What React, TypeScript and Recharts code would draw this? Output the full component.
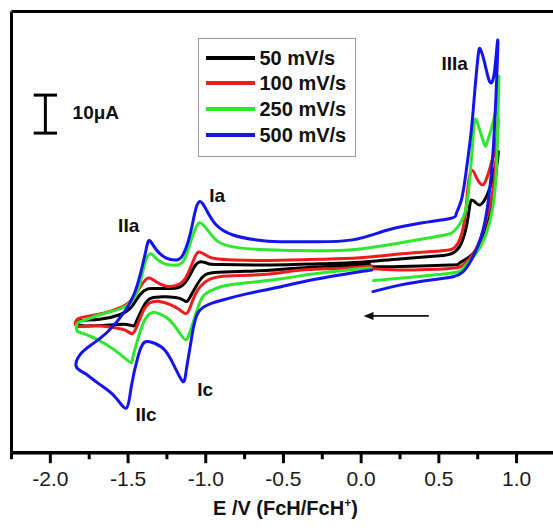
import React from 'react';
import { LineChart, Line, XAxis, YAxis, ReferenceLine, ReferenceDot } from 'recharts';

const FONT = '"Liberation Sans", Arial, Helvetica, sans-serif';

// scan rates, legend order
const rates = ['50 mV/s', '100 mV/s', '250 mV/s', '500 mV/s'];
const colors = ['#000000', '#ee1c1c', '#2ee82e', '#1414ee'];

// [E (V vs FcH/FcH+), I (µA)] read along each loop, starting at the rest potential
const scan50: [number, number][] = [
  [0.055, 9.3], [-0.138, 8.9], [-0.396, 8.4], [-0.589, 7.8], [-0.782, 7.5], [-0.943, 7.2],
  [-1.014, 6.3], [-1.065, 3.4], [-1.104, 0.5], [-1.126, -0.4], [-1.168, 0.4], [-1.232, 0.8],
  [-1.297, 0.8], [-1.361, 0.3], [-1.412, -2.6], [-1.451, -6.1], [-1.47, -6.8], [-1.522, -6.4],
  [-1.618, -6.6], [-1.715, -6.8], [-1.799, -6.8], [-1.824, -6.3], [-1.811, -5.5], [-1.683, -5.1],
  [-1.554, -3.9], [-1.477, -1.8], [-1.425, 1.3], [-1.374, 2.9], [-1.329, 3.0], [-1.254, 3.0],
  [-1.168, 3.4], [-1.116, 5.5], [-1.078, 8.4], [-1.039, 10.0], [-0.988, 9.6], [-0.911, 9.3],
  [-0.589, 9.2], [-0.267, 9.5], [-0.01, 9.9], [0.248, 10.8], [0.505, 11.6], [0.582, 12.2],
  [0.633, 14.0], [0.677, 19.3], [0.698, 24.6], [0.711, 26.3], [0.737, 25.6], [0.763, 25.0],
  [0.801, 26.8], [0.848, 32.4], [0.882, 39.0], [0.87, 34.2], [0.848, 26.3], [0.816, 21.1],
  [0.763, 14.9], [0.698, 11.4], [0.633, 9.7], [0.569, 9.2], [0.248, 8.8], [0.08, 8.7],
];

const scan100: [number, number][] = [
  [0.068, 8.9], [-0.138, 8.3], [-0.396, 7.8], [-0.589, 6.8], [-0.782, 6.4], [-0.911, 6.1],
  [-0.994, 5.0], [-1.059, 2.1], [-1.097, -1.6], [-1.126, -3.6], [-1.168, -2.6], [-1.232, -1.2],
  [-1.297, -0.4], [-1.361, -0.8], [-1.406, -3.2], [-1.445, -7.1], [-1.474, -8.9], [-1.522, -7.9],
  [-1.618, -7.1], [-1.715, -6.8], [-1.799, -7.0], [-1.837, -6.6], [-1.824, -5.0], [-1.747, -4.2],
  [-1.65, -3.4], [-1.554, -2.1], [-1.477, 0.0], [-1.425, 3.2], [-1.387, 5.3], [-1.358, 5.7],
  [-1.316, 4.7], [-1.254, 3.6], [-1.168, 4.2], [-1.116, 6.8], [-1.078, 10.5], [-1.046, 12.6],
  [-1.001, 11.8], [-0.943, 10.9], [-0.814, 10.5], [-0.589, 10.4], [-0.267, 10.7], [-0.01, 11.1],
  [0.248, 12.1], [0.505, 12.9], [0.582, 13.3], [0.623, 14.9], [0.666, 21.1], [0.689, 30.3],
  [0.714, 34.1], [0.743, 32.1], [0.773, 30.4], [0.801, 31.3], [0.84, 36.3], [0.872, 42.6],
  [0.882, 47.4], [0.872, 39.5], [0.853, 30.3], [0.827, 24.6], [0.773, 16.7], [0.709, 11.4],
  [0.655, 9.2], [0.569, 8.3], [0.248, 7.9], [0.08, 8.2],
];

const scan250: [number, number][] = [
  [0.055, 8.4], [-0.01, 8.2], [-0.312, 6.8], [-0.524, 5.5], [-0.737, 4.5], [-0.891, 3.6],
  [-0.956, 2.6], [-1.02, 0.8], [-1.065, -3.9], [-1.104, -8.7], [-1.129, -10.5], [-1.168, -8.7],
  [-1.232, -5.3], [-1.297, -3.7], [-1.342, -3.3], [-1.393, -5.3], [-1.438, -10.5], [-1.47, -15.3],
  [-1.49, -16.3], [-1.586, -13.2], [-1.694, -10.5], [-1.799, -8.7], [-1.828, -8.2], [-1.828, -6.3],
  [-1.779, -5.3], [-1.694, -4.1], [-1.586, -2.8], [-1.503, -1.3], [-1.438, 2.4], [-1.4, 8.4],
  [-1.361, 12.1], [-1.318, 10.9], [-1.264, 9.5], [-1.2, 9.1], [-1.142, 10.3], [-1.097, 15.3],
  [-1.065, 18.9], [-1.039, 20.3], [-0.994, 18.7], [-0.923, 15.4], [-0.814, 13.9], [-0.653, 13.3],
  [-0.396, 13.0], [-0.061, 13.2], [0.248, 15.0], [0.505, 16.8], [0.582, 17.6], [0.623, 19.3],
  [0.677, 24.6], [0.709, 36.8], [0.724, 44.7], [0.737, 47.6], [0.763, 44.7], [0.795, 40.8],
  [0.816, 42.1], [0.87, 50.9], [0.887, 58.8], [0.88, 47.4], [0.87, 34.2], [0.848, 24.6],
  [0.806, 17.6], [0.741, 12.3], [0.655, 8.3], [0.569, 7.0], [0.248, 5.7], [0.08, 5.1],
];

const scan500: [number, number][] = [
  [0.068, 7.9], [-0.01, 7.4], [-0.312, 5.3], [-0.524, 3.4], [-0.737, 1.6], [-0.891, 0.0],
  [-0.964, -0.9], [-1.05, -3.4], [-1.093, -10.5], [-1.125, -18.4], [-1.147, -21.5], [-1.2, -17.6],
  [-1.264, -13.2], [-1.329, -11.4], [-1.393, -11.1], [-1.436, -14.9], [-1.479, -22.8], [-1.511, -28.5],
  [-1.586, -25.4], [-1.694, -21.9], [-1.779, -19.3], [-1.833, -17.6], [-1.811, -14.5], [-1.736, -11.8],
  [-1.629, -8.3], [-1.522, -3.1], [-1.458, 1.8], [-1.414, 7.9], [-1.382, 13.6], [-1.361, 15.6],
  [-1.318, 13.2], [-1.254, 11.0], [-1.189, 10.5], [-1.147, 11.8], [-1.104, 16.7], [-1.071, 22.8],
  [-1.039, 25.9], [-0.996, 23.7], [-0.932, 19.7], [-0.825, 17.1], [-0.674, 15.8], [-0.524, 15.3],
  [-0.31, 15.3], [-0.057, 15.8], [0.171, 18.4], [0.396, 20.3], [0.58, 21.5], [0.613, 22.8],
  [0.645, 26.3], [0.677, 34.2], [0.709, 44.7], [0.73, 54.4], [0.752, 64.0], [0.767, 66.0],
  [0.795, 62.3], [0.827, 57.4], [0.853, 58.8], [0.87, 64.9], [0.88, 68.0], [0.87, 56.1],
  [0.848, 38.6], [0.816, 25.4], [0.773, 16.7], [0.709, 10.5], [0.655, 7.4], [0.591, 6.1],
  [0.462, 5.3], [0.248, 3.9], [0.076, 2.2],
];

const scans = [scan50, scan100, scan250, scan500];

const xTicks = [-2.25, -2, -1.75, -1.5, -1.25, -1, -0.75, -0.5, -0.25, 0, 0.25, 0.5, 0.75, 1, 1.25];
// the axis runs on past the right edge of the picture
const xDomain: [number, number] = [-2.25, 1.775];
const yDomain: [number, number] = [-40.2, 75.9];

// peak labels (V, µA)
const peakTags = [
  { name: 'IIa', v: -1.496, i: 19.5 },
  { name: 'Ia', v: -0.927, i: 27.6 },
  { name: 'Ic', v: -1.004, i: -23.7 },
  { name: 'IIc', v: -1.384, i: -30.1 },
  { name: 'IIIa', v: 0.602, i: 62.3 },
];

// 10 µA scale bar and sweep direction arrow
const scaleBar = { v: -2.032, top: 53.9, size: 10, serif: 0.075, label: '10μA', labelV: -1.857, labelI: 49.2 };
const sweepArrow = { from: 0.435, to: 0.015, i: -4.2 };

const toPts = (a: [number, number][]) => a.map(([v, i]) => ({ v, i }));

function XTick(props: any) {
  const { x, y, payload } = props;
  const v = payload.value;
  const major = Math.abs(v * 2 - Math.round(v * 2)) < 1e-6;
  return (
    <g>
      <line x1={x} y1={y} x2={x} y2={y + (major ? 10.5 : 6.5)} stroke="#000" strokeWidth={3} />
      {major && (
        <text x={x} y={y + 33} textAnchor="middle" fontFamily={FONT} fontSize={21} fill="#1a1a1a">
          {v.toFixed(1)}
        </text>
      )}
    </g>
  );
}

// centred under the visible part of the axis (-0.4875 V)
function AxisTitle(props: any) {
  const vb = props.viewBox || { y: 452.7 };
  return (
    <text x={285.4} y={vb.y + 62} textAnchor="middle" fontFamily={FONT} fontWeight="bold" fontSize={20} fill="#111">
      E /V (FcH/FcH
      <tspan dy={-8} fontSize={12}>+</tspan>
      <tspan dy={8}>)</tspan>
    </text>
  );
}

function LegendBox() {
  return (
    <div
      style={{
        position: 'absolute',
        left: 198,
        top: 37.5,
        width: 158,
        height: 119,
        boxSizing: 'border-box',
        border: '1.5px solid #9a9a9a',
        background: '#fff',
      }}
    >
      {rates.map((r, k) => (
        <div key={r} style={{ position: 'absolute', left: 0, top: 20.5 + k * 25.7 - 1.5, width: '100%' }}>
          <div style={{ position: 'absolute', left: 6.5, top: -2, width: 49, height: 4, background: colors[k] }} />
          <div
            style={{
              position: 'absolute',
              left: 60.5,
              top: -12,
              fontFamily: FONT,
              fontWeight: 'bold',
              fontSize: 20,
              lineHeight: '24px',
              color: '#111',
              whiteSpace: 'nowrap',
            }}
          >
            {r}
          </div>
        </div>
      ))}
    </div>
  );
}

const tagShape = (name: string, anchor: 'middle' | 'start' = 'middle') => (p: any) => (
  <text
    x={p.cx}
    y={p.cy}
    textAnchor={anchor}
    dominantBaseline="central"
    fontFamily={FONT}
    fontWeight="bold"
    fontSize={19}
    fill="#111"
  >
    {name}
  </text>
);

const arrowShape = (p: any) => {
  const { x1, y1, x2, y2 } = p;
  return (
    <g>
      <line x1={x1} y1={y1} x2={x2 + 6} y2={y2} stroke="#111" strokeWidth={1.6} />
      <path d={`M${x2},${y2} L${x2 + 10},${y2 - 4} L${x2 + 10},${y2 + 4} Z`} fill="#111" />
    </g>
  );
};

export default function App() {
  return (
    <div
      style={{
        position: 'absolute',
        left: 0,
        top: 0,
        width: 553,
        height: 530,
        overflow: 'hidden',
        background: '#fff',
      }}
    >
      <LineChart
        width={640}
        height={530}
        margin={{ top: 11.5, right: 3, bottom: 17.3, left: 11.5 }}
        style={{ fontFamily: FONT }}
      >
        <XAxis
          type="number"
          dataKey="v"
          domain={xDomain}
          allowDataOverflow
          ticks={xTicks}
          interval={0}
          tickSize={0}
          tickMargin={0}
          tickLine={false}
          tick={<XTick />}
          axisLine={{ stroke: '#000', strokeWidth: 3.5 }}
          height={60}
          label={<AxisTitle />}
        />
        <YAxis type="number" dataKey="i" domain={yDomain} allowDataOverflow hide />
        {/* left and top edges of the frame */}
        <ReferenceLine x={xDomain[0]} stroke="#000" strokeWidth={3} ifOverflow="visible" />
        <ReferenceLine y={yDomain[1]} stroke="#000" strokeWidth={3} ifOverflow="visible" />
        {scans.map((s, k) => (
          <Line
            key={rates[k]}
            data={toPts(s)}
            dataKey="i"
            name={rates[k]}
            type="natural"
            stroke={colors[k]}
            strokeWidth={3}
            strokeLinejoin="round"
            strokeLinecap="round"
            dot={false}
            activeDot={false}
            isAnimationActive={false}
          />
        ))}
        <ReferenceLine
          segment={[
            { x: scaleBar.v, y: scaleBar.top },
            { x: scaleBar.v, y: scaleBar.top - scaleBar.size },
          ]}
          stroke="#000"
          strokeWidth={3}
        />
        <ReferenceLine
          segment={[
            { x: scaleBar.v - scaleBar.serif, y: scaleBar.top },
            { x: scaleBar.v + scaleBar.serif, y: scaleBar.top },
          ]}
          stroke="#000"
          strokeWidth={3}
        />
        <ReferenceLine
          segment={[
            { x: scaleBar.v - scaleBar.serif, y: scaleBar.top - scaleBar.size },
            { x: scaleBar.v + scaleBar.serif, y: scaleBar.top - scaleBar.size },
          ]}
          stroke="#000"
          strokeWidth={3}
        />
        <ReferenceDot x={scaleBar.labelV} y={scaleBar.labelI} r={0} shape={tagShape(scaleBar.label, 'start')} />
        <ReferenceLine
          segment={[
            { x: sweepArrow.from, y: sweepArrow.i },
            { x: sweepArrow.to, y: sweepArrow.i },
          ]}
          shape={arrowShape}
        />
        {peakTags.map((t) => (
          <ReferenceDot key={t.name} x={t.v} y={t.i} r={0} shape={tagShape(t.name)} />
        ))}
      </LineChart>
      <LegendBox />
    </div>
  );
}
